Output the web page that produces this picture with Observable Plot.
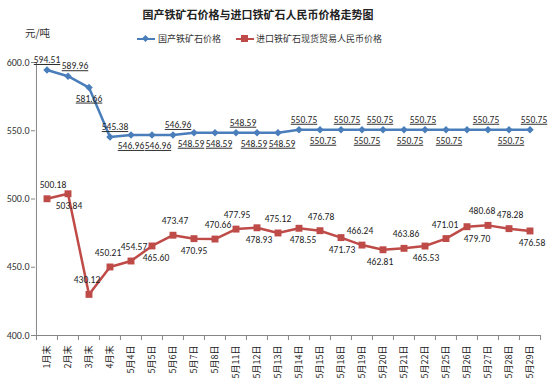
<!DOCTYPE html>
<html><head><meta charset="utf-8">
<script src="https://cdn.jsdelivr.net/npm/d3@7"></script>
<script src="https://cdn.jsdelivr.net/npm/@observablehq/plot@0.6"></script>
<style>
body{margin:0;background:#fff;}
#wrap{position:relative;width:551px;height:386px;font-family:"Noto Sans CJK SC",sans-serif;color:#222;}
#title{position:absolute;left:0;width:516px;top:5px;text-align:center;font-weight:bold;font-size:11px;line-height:18px;}
#unit{position:absolute;left:25px;top:25px;font-size:10.5px;line-height:16px;color:#333;}
.leg{position:absolute;top:31px;font-size:9px;line-height:16px;color:#333;white-space:nowrap;}
.sw{position:absolute;top:7px;width:18px;height:2px;}
.mk{position:absolute;}
#chart{position:absolute;left:0;top:0;}
</style></head>
<body><div id="wrap">
<div id="title">国产铁矿石价格与进口铁矿石人民币价格走势图</div>
<div id="unit">元/吨</div>
<div class="leg" style="left:137px;"><div class="sw" style="background:#4A7EBB;left:0"></div><div class="mk" style="left:6px;top:5px;width:5px;height:5px;background:#4A7EBB;transform:rotate(45deg)"></div><span style="margin-left:21px">国产铁矿石价格</span></div>
<div class="leg" style="left:236px;"><div class="sw" style="background:#BE4B48;left:0"></div><div class="mk" style="left:5px;top:4px;width:7px;height:7px;background:#BE4B48"></div><span style="margin-left:20px">进口铁矿石现货贸易人民币价格</span></div>
<div id="chart"></div>
</div>
<script>
const categories = ["1月末","2月末","3月末","4月末","5月4日","5月5日","5月6日","5月7日","5月8日","5月11日","5月12日","5月13日","5月14日","5月15日","5月18日","5月19日","5月20日","5月21日","5月22日","5月25日","5月26日","5月27日","5月28日","5月29日"];
const domestic = [594.51,589.96,581.66,545.38,546.96,546.96,546.96,548.59,548.59,548.59,548.59,548.59,550.75,550.75,550.75,550.75,550.75,550.75,550.75,550.75,550.75,550.75,550.75,550.75];
const imported = [500.18,503.84,430.12,450.21,454.57,465.60,473.47,470.95,470.66,477.95,478.93,475.12,478.55,476.78,471.73,466.24,462.81,463.86,465.53,471.01,479.70,480.68,478.28,476.58];
// label placement (layout only): side 1 = above, -1 = below, 0 = not shown; shift = horizontal nudge in px
const domesticSide  = [1,1,-1,1,-1,-1,1,-1,-1,1,-1,-1,1,-1,1,-1,1,-1,1,-1,0,1,-1,1];
const domesticShift = [0,7,0,5,0,6,5,-3,4,7,-3,4,5,3,6,5,-3,6,-2,3,0,-2,2,4];
const importedSide  = [1,-1,1,1,1,-1,1,-1,1,1,-1,1,-1,1,-1,1,-1,1,-1,1,-1,1,1,-1];
const importedShift = [6,1,-2,-2,3,4,2,0,3,1,2,0,4,1,1,-2,-3,2,1,-1,10,-6,1,2];
const yTicks = [400,450,500,550,600];

const W = 551, H = 386, ML = 35, MR = 10, MT = 62, MB = 51;
const bw = (W - ML - MR) / categories.length;
const pxPerUnit = (H - MT - MB) / 200;
const blue = "#4A7EBB", red = "#BE4B48";
const numFont = "Carlito, 'Liberation Sans', Arial, sans-serif";
const idx = d3.range(categories.length);
const fmt2 = d3.format(".2f");

function labelMarks(values, side, shift, dyUp, dyDown, fill) {
  const groups = d3.groups(idx.filter(i => side[i] !== 0), i => side[i] + "|" + shift[i]);
  return groups.map(([key, ids]) => {
    const s = side[ids[0]], dx = shift[ids[0]];
    return Plot.text(ids, {x: i => categories[i], y: i => values[i], text: i => fmt2(values[i]),
      dx, dy: s > 0 ? dyUp : dyDown, fontSize: 9.5, fontFamily: numFont, fill});
  });
}

const chart = Plot.plot({
  width: W, height: H,
  marginLeft: ML, marginRight: MR, marginTop: MT, marginBottom: MB,
  style: {fontFamily: "'Noto Sans CJK SC', sans-serif", background: "transparent", color: "#333"},
  x: {type: "band", domain: categories, padding: 0, axis: null},
  y: {domain: [400, 600], axis: null},
  marks: [
    Plot.axisY({ticks: yTicks, tickFormat: d3.format(".1f"), tickSize: 4, tickPadding: 2, fontSize: 10, fontFamily: numFont, stroke: "#868686", fill: "#333"}),
    Plot.ruleX([categories[0]], {y1: 400, y2: 600, dx: -bw/2, stroke: "#868686"}),
    Plot.ruleY([400], {stroke: "#868686"}),
    Plot.ruleX(categories, {x: d => d, y1: 400, y2: 400 - 5/pxPerUnit, dx: -bw/2, stroke: "#868686"}),
    Plot.ruleX([categories[categories.length-1]], {y1: 400, y2: 400 - 5/pxPerUnit, dx: bw/2, stroke: "#868686"}),
    Plot.axisX({tickSize: 0, tickRotate: -90, tickPadding: 10, fontSize: 9, fill: "#222"}),
    Plot.line(idx, {x: i => categories[i], y: i => domestic[i], stroke: blue, strokeWidth: 2.5}),
    Plot.dot(idx, {x: i => categories[i], y: i => domestic[i], symbol: "diamond2", r: 3.4, fill: blue, stroke: null}),
    ...labelMarks(domestic, domesticSide, domesticShift, -10, 11, "#262626"),
    Plot.line(idx, {x: i => categories[i], y: i => imported[i], stroke: red, strokeWidth: 2.5}),
    Plot.dot(idx, {x: i => categories[i], y: i => imported[i], symbol: "square", r: 3.9, fill: red, stroke: null}),
    ...labelMarks(imported, importedSide, importedShift, -14, 12, "#222222")
  ]
});
chart.querySelectorAll('g[fill="#262626"]').forEach(g => g.style.textDecoration = "underline");
document.getElementById("chart").appendChild(chart);
</script>
</body></html>
